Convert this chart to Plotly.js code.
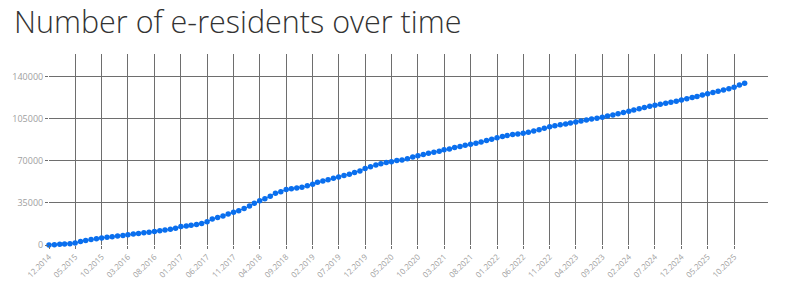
<!DOCTYPE html>
<html>
<head>
<meta charset="utf-8">
<script src="https://cdn.plot.ly/plotly-3.0.1.min.js"></script>
<style>html,body{margin:0;padding:0;background:#fff;}#chart{width:796px;height:283px;}</style>
</head>
<body>
<div id="chart"></div>
<script>
// Monthly cumulative number of e-residents, starting 12.2014
const startMonth = "2014-12";
const residents = [
  0, 280, 560, 830, 1100, 1600, 3000, 3800, 4500, 5200,
  5900, 6400, 6900, 7400, 7900, 8600, 9100, 9600, 10100, 10600,
  11200, 11800, 12400, 13200, 14000, 15300, 15800, 16400, 17100, 17800,
  19400, 21700, 22800, 24200, 25800, 27200, 28600, 30300, 32500, 34700,
  36900, 38600, 40600, 43100, 44400, 46100, 46900, 47500, 48100, 49400,
  50600, 52200, 53300, 54400, 55600, 56700, 57800, 58900, 60300, 61700,
  63600, 65200, 66500, 67600, 68600, 69400, 70300, 70800, 71900, 73300,
  74200, 75300, 76400, 77200, 78100, 79200, 80000, 81100, 81900, 83100,
  83900, 84700, 85800, 86900, 88100, 89200, 90300, 91100, 91900, 92500,
  93100, 93900, 95000, 96000, 97200, 98400, 99200, 100000, 100800, 101600,
  102400, 103200, 104000, 104800, 105600, 106400, 107300, 108300, 109300, 110300,
  111300, 112300, 113400, 114400, 115400, 116300, 117100, 117900, 118800, 119700,
  120700, 121700, 122700, 123700, 124800, 125900, 127000, 128000, 129000, 130100,
  131300, 133200, 134600
];
const yTicks = [0, 35000, 70000, 105000, 140000];
const xTickLabels = [
  "12.2014", "05.2015", "10.2015", "03.2016", "08.2016", "01.2017", "06.2017",
  "11.2017", "04.2018", "09.2018", "02.2019", "07.2019", "12.2019", "05.2020",
  "10.2020", "03.2021", "08.2021", "01.2022", "06.2022", "11.2022", "04.2023",
  "09.2023", "02.2024", "07.2024", "12.2024", "05.2025", "10.2025"
];

// month dates for each value
const months = [];
{
  let y = parseInt(startMonth.slice(0,4)), m = parseInt(startMonth.slice(5,7));
  for (let i = 0; i < residents.length; i++) {
    months.push(y + "-" + String(m).padStart(2,"0") + "-01");
    m++; if (m > 12) { m = 1; y++; }
  }
}
const xTickVals = xTickLabels.map(s => s.slice(3) + "-" + s.slice(0,2) + "-01");

const trace = {
  x: months, y: residents, type: "scatter", mode: "lines+markers",
  line: {color: "#0a6fee", width: 1},
  marker: {color: "#0a6fee", size: 5.5},
  cliponaxis: false, hoverinfo: "x+y"
};

const layout = {
  width: 796, height: 283,
  margin: {l: 49, r: 28, t: 54, b: 38},
  paper_bgcolor: "#fff", plot_bgcolor: "#fff",
  showlegend: false,
  title: {
    text: "Number of e-residents over time",
    font: {family: "Open Sans", size: 30.5, color: "#333", weight: 300},
    xref: "container", x: 14/796, xanchor: "left",
    yref: "container", y: 1 - 22/283, yanchor: "middle"
  },
  xaxis: {
    type: "date",
    range: ["2014-12-01", "2026-04-15"],
    tickvals: xTickVals, ticktext: xTickLabels,
    tickangle: -45,
    tickfont: {family: "Open Sans", size: 8, color: "#a0a0a0"},
    showgrid: true, gridcolor: "#6e6e6e", gridwidth: 1,
    ticks: "outside", ticklen: 3, tickcolor: "#6e6e6e",
    showline: false, zeroline: false, fixedrange: true
  },
  yaxis: {
    range: [0, 159000],
    tickvals: yTicks, tickformat: "d",
    tickfont: {family: "Open Sans", size: 9, color: "#a0a0a0"},
    showgrid: true, gridcolor: "#6e6e6e", gridwidth: 1,
    ticks: "outside", ticklen: 3, tickcolor: "#6e6e6e",
    showline: false, zeroline: false, fixedrange: true
  }
};

Plotly.newPlot("chart", [trace], layout, {displayModeBar: false, staticPlot: true});
</script>
</body>
</html>
